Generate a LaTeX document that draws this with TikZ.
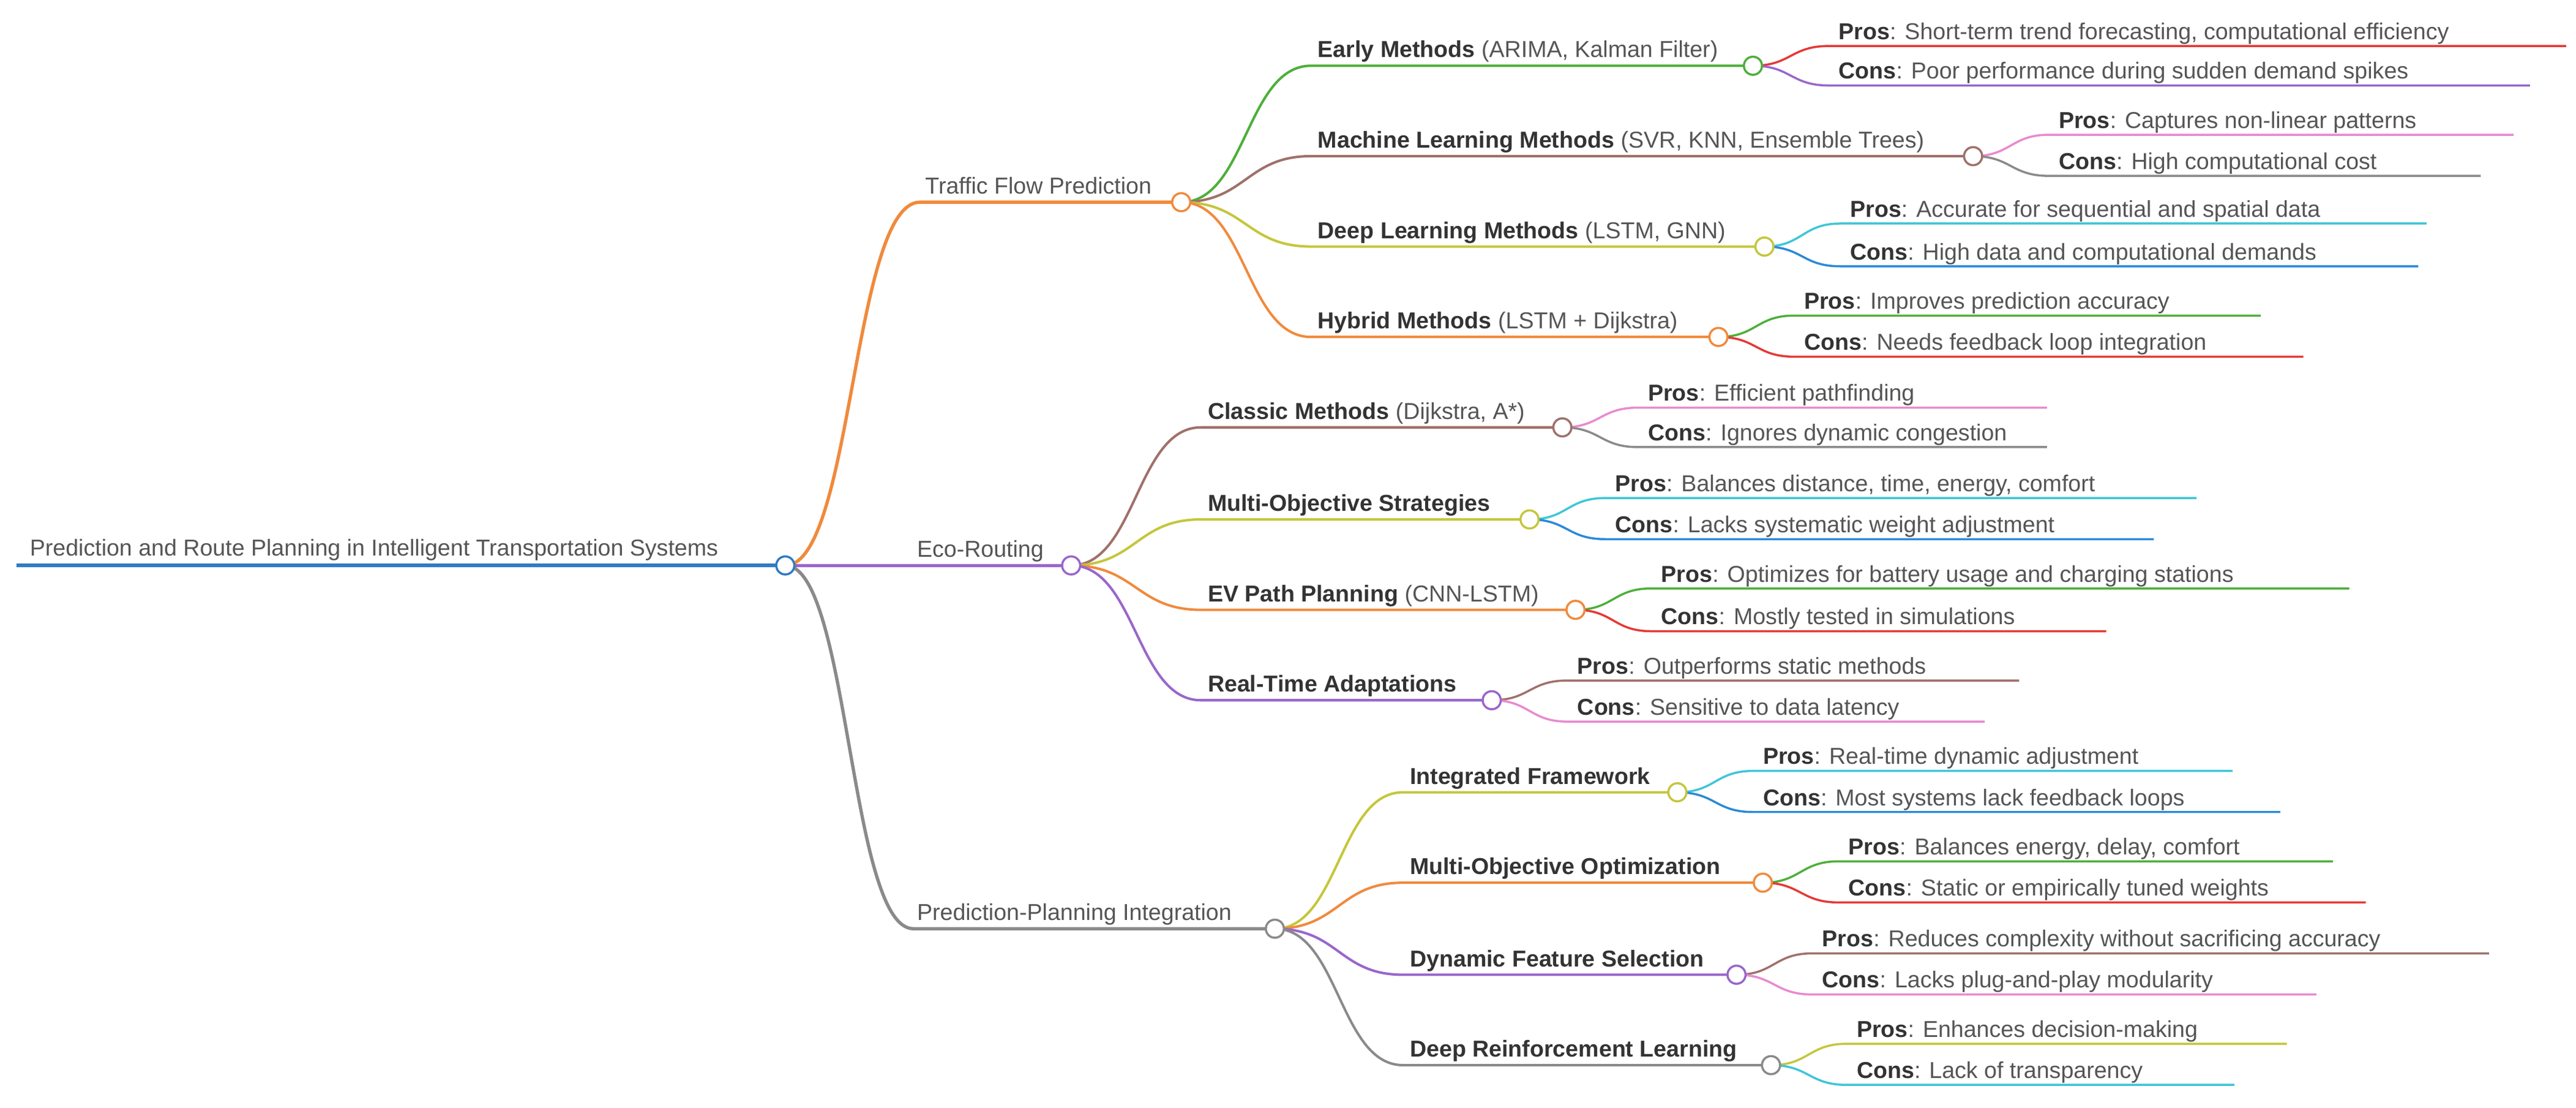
\documentclass[tikz,border=0pt]{standalone}
\usepackage{fontspec}
\setmainfont{Liberation Sans}
\begin{document}
\definecolor{cRoot}{HTML}{2E7BC4}
\definecolor{cOr}{HTML}{F08A3C}
\definecolor{cPu}{HTML}{9966CC}
\definecolor{cGr}{HTML}{8A8A8A}
\definecolor{cGn}{HTML}{4DAF3A}
\definecolor{cBr}{HTML}{A0706A}
\definecolor{cOl}{HTML}{C5C63C}
\definecolor{cRd}{HTML}{E53935}
\definecolor{cPk}{HTML}{E88AD0}
\definecolor{cCy}{HTML}{3FC6D6}
\definecolor{cBl}{HTML}{2A8AD8}
\definecolor{txt}{HTML}{555555}
\definecolor{txtb}{HTML}{333333}
\newcommand\mmedge[7]{\draw[#7] (#1) .. controls ({(#2+#4)/2},#3) and ({(#2+#4)/2},#5) .. (#4,#5) -- (#6,#5);}
\newcommand\mmleaf[8]{\mmedge{#1}{#2}{#3}{#2+46}{#4}{#5}{line width=1.3pt,#6}
\node[lbl] (#1-#7) at ({#2+52},{#4-4}) {\textcolor{txtb}{\textbf{#7}}: #8};}
\newcommand\mmmid[8]{\mmedge{#1}{#2}{#3}{#4}{#5}{#6}{line width=1.5pt,#7}
\node[lbl] (#1-l#5) at ({#4+4},{#5-5}) {#8};}
\newcommand\bb[1]{\textcolor{txtb}{\textbf{#1}}}
\begin{tikzpicture}[x=1pt,y=-1pt,
  lbl/.style={anchor=base west,inner sep=0pt,font=\fontsize{14}{16}\selectfont,text=txt},
  dot/.style={circle,draw,fill=white,line width=1.3pt,minimum size=11pt,inner sep=0pt}]
\useasboundingbox (0,0) rectangle (1568,674);
\coordinate (R) at (478,344);
\coordinate (T) at (719,123);
\coordinate (E) at (652,344);
\coordinate (P) at (776,565);
\coordinate (T1) at (1067,40);
\coordinate (T2) at (1201,95);
\coordinate (T3) at (1074,150);
\coordinate (T4) at (1046,205);
\coordinate (E1) at (951,260);
\coordinate (E2) at (931,316);
\coordinate (E3) at (959,371);
\coordinate (E4) at (908,426);
\coordinate (P1) at (1021,482);
\coordinate (P2) at (1073,537);
\coordinate (P3) at (1057,593);
\coordinate (P4) at (1078,648);
\coordinate (R0) at (10,344);
\draw[cRoot,line width=2.4pt] (R0) -- (R);
\node[lbl] (rootlbl) at (18,338) {Prediction and Route Planning in Intelligent Transportation Systems};
\mmedge{R}{478}{344}{560}{123}{719}{cOr,line width=2pt}
\node[lbl] (tl) at (563,118) {Traffic Flow Prediction};
\mmedge{R}{478}{344}{556}{344}{652}{cPu,line width=2pt}
\node[lbl] (el) at (558,339) {Eco-Routing};
\mmedge{R}{478}{344}{556}{565}{776}{cGr,line width=2pt}
\node[lbl] (pl) at (558,560) {Prediction-Planning Integration};
\mmmid{T}{719}{123}{798}{40}{1067}{cGn}{\bb{Early Methods} (ARIMA, Kalman Filter)}
\mmmid{T}{719}{123}{798}{95}{1201}{cBr}{\bb{Machine Learning Methods} (SVR, KNN, Ensemble Trees)}
\mmmid{T}{719}{123}{798}{150}{1074}{cOl}{\bb{Deep Learning Methods} (LSTM, GNN)}
\mmmid{T}{719}{123}{798}{205}{1046}{cOr}{\bb{Hybrid Methods} (LSTM + Dijkstra)}
\mmmid{E}{652}{344}{731}{260}{951}{cBr}{\bb{Classic Methods} (Dijkstra, A*)}
\mmmid{E}{652}{344}{731}{316}{931}{cOl}{\bb{Multi-Objective Strategies}}
\mmmid{E}{652}{344}{731}{371}{959}{cOr}{\bb{EV Path Planning} (CNN-LSTM)}
\mmmid{E}{652}{344}{731}{426}{908}{cPu}{\bb{Real-Time Adaptations}}
\mmmid{P}{776}{565}{854}{482}{1021}{cOl}{\bb{Integrated Framework}}
\mmmid{P}{776}{565}{854}{537}{1073}{cOr}{\bb{Multi-Objective Optimization}}
\mmmid{P}{776}{565}{854}{593}{1057}{cPu}{\bb{Dynamic Feature Selection}}
\mmmid{P}{776}{565}{854}{648}{1078}{cGr}{\bb{Deep Reinforcement Learning}}
\mmleaf{T1}{1067}{40}{28}{1562}{cRd}{Pros}{Short-term trend forecasting, computational efficiency}
\mmleaf{T1}{1067}{40}{52}{1540}{cPu}{Cons}{Poor performance during sudden demand spikes}
\mmleaf{T2}{1201}{95}{82}{1530}{cPk}{Pros}{Captures non-linear patterns}
\mmleaf{T2}{1201}{95}{107}{1510}{cGr}{Cons}{High computational cost}
\mmleaf{T3}{1074}{150}{136}{1477}{cCy}{Pros}{Accurate for sequential and spatial data}
\mmleaf{T3}{1074}{150}{162}{1472}{cBl}{Cons}{High data and computational demands}
\mmleaf{T4}{1046}{205}{192}{1376}{cGn}{Pros}{Improves prediction accuracy}
\mmleaf{T4}{1046}{205}{217}{1402}{cRd}{Cons}{Needs feedback loop integration}
\mmleaf{E1}{951}{260}{248}{1246}{cPk}{Pros}{Efficient pathfinding}
\mmleaf{E1}{951}{260}{272}{1246}{cGr}{Cons}{Ignores dynamic congestion}
\mmleaf{E2}{931}{316}{303}{1337}{cCy}{Pros}{Balances distance, time, energy, comfort}
\mmleaf{E2}{931}{316}{328}{1311}{cBl}{Cons}{Lacks systematic weight adjustment}
\mmleaf{E3}{959}{371}{358}{1430}{cGn}{Pros}{Optimizes for battery usage and charging stations}
\mmleaf{E3}{959}{371}{384}{1282}{cRd}{Cons}{Mostly tested in simulations}
\mmleaf{E4}{908}{426}{414}{1229}{cBr}{Pros}{Outperforms static methods}
\mmleaf{E4}{908}{426}{439}{1208}{cPk}{Cons}{Sensitive to data latency}
\mmleaf{P1}{1021}{482}{469}{1359}{cCy}{Pros}{Real-time dynamic adjustment}
\mmleaf{P1}{1021}{482}{494}{1388}{cBl}{Cons}{Most systems lack feedback loops}
\mmleaf{P2}{1073}{537}{524}{1420}{cGn}{Pros}{Balances energy, delay, comfort}
\mmleaf{P2}{1073}{537}{549}{1440}{cRd}{Cons}{Static or empirically tuned weights}
\mmleaf{P3}{1057}{593}{580}{1515}{cBr}{Pros}{Reduces complexity without sacrificing accuracy}
\mmleaf{P3}{1057}{593}{605}{1410}{cPk}{Cons}{Lacks plug-and-play modularity}
\mmleaf{P4}{1078}{648}{635}{1392}{cOl}{Pros}{Enhances decision-making}
\mmleaf{P4}{1078}{648}{660}{1360}{cCy}{Cons}{Lack of transparency}
\node[dot,draw=cRoot] (nR) at (R) {};
\node[dot,draw=cOr] (nT) at (T) {};
\node[dot,draw=cPu] (nE) at (E) {};
\node[dot,draw=cGr] (nP) at (P) {};
\node[dot,draw=cGn] (nT1) at (T1) {};
\node[dot,draw=cBr] (nT2) at (T2) {};
\node[dot,draw=cOl] (nT3) at (T3) {};
\node[dot,draw=cOr] (nT4) at (T4) {};
\node[dot,draw=cBr] (nE1) at (E1) {};
\node[dot,draw=cOl] (nE2) at (E2) {};
\node[dot,draw=cOr] (nE3) at (E3) {};
\node[dot,draw=cPu] (nE4) at (E4) {};
\node[dot,draw=cOl] (nP1) at (P1) {};
\node[dot,draw=cOr] (nP2) at (P2) {};
\node[dot,draw=cPu] (nP3) at (P3) {};
\node[dot,draw=cGr] (nP4) at (P4) {};
\end{tikzpicture}
\end{document}
